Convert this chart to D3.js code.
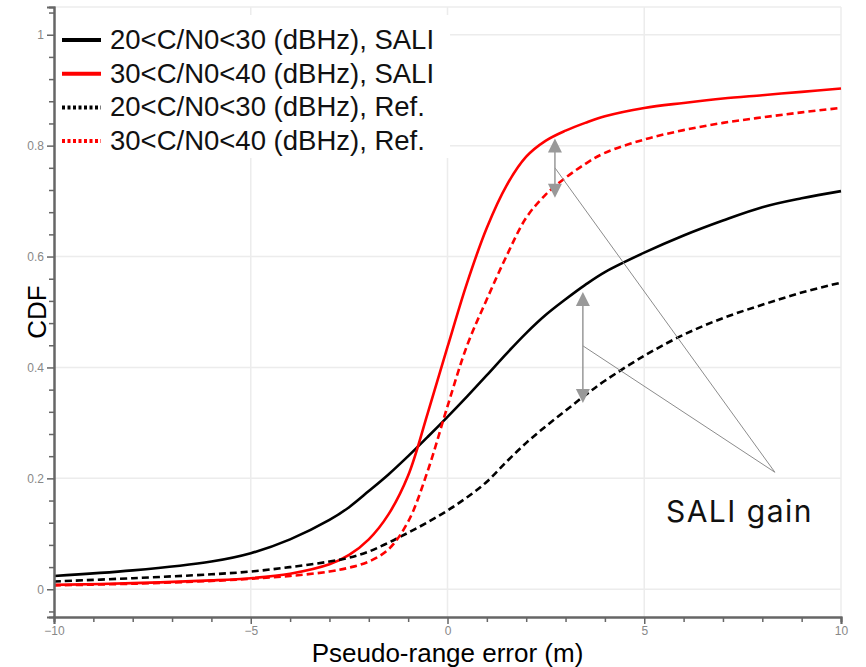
<!DOCTYPE html>
<html>
<head>
<meta charset="utf-8">
<script src="https://cdn.jsdelivr.net/npm/d3@7"></script>
<style>
  body { margin: 0; background: #fff; }
  text { font-family: "Liberation Sans", Arial, sans-serif; }
</style>
</head>
<body>
<script>
// pseudo-range error grid (m)
var errX = [-10, -8, -6, -5, -4, -3, -2.5, -2, -1.5, -1, -0.5, 0, 0.5, 1, 1.5, 2, 2.5, 3, 3.5, 4, 5, 6, 7, 8, 9, 10];

// CDF values
var sali2030 = [0.024, 0.034, 0.05, 0.065, 0.09, 0.125, 0.148, 0.177, 0.207, 0.24, 0.275, 0.311, 0.348, 0.386, 0.425, 0.462, 0.495, 0.523, 0.549, 0.572, 0.607, 0.638, 0.665, 0.689, 0.705, 0.718];
var sali3040 = [0.008, 0.011, 0.016, 0.02, 0.028, 0.045, 0.062, 0.09, 0.135, 0.205, 0.318, 0.437, 0.553, 0.652, 0.728, 0.78, 0.809, 0.827, 0.841, 0.853, 0.868, 0.877, 0.885, 0.891, 0.897, 0.903];
var ref2030 = [0.014, 0.02, 0.027, 0.032, 0.04, 0.05, 0.057, 0.068, 0.084, 0.102, 0.121, 0.142, 0.166, 0.194, 0.23, 0.264, 0.294, 0.322, 0.35, 0.376, 0.421, 0.459, 0.489, 0.513, 0.535, 0.553];
var ref3040 = [0.007, 0.01, 0.015, 0.019, 0.024, 0.032, 0.039, 0.05, 0.072, 0.122, 0.214, 0.33, 0.44, 0.523, 0.601, 0.67, 0.712, 0.742, 0.767, 0.787, 0.811, 0.828, 0.841, 0.851, 0.86, 0.868];

var seriesNames = ["20<C/N0<30 (dBHz), SALI", "30<C/N0<40 (dBHz), SALI", "20<C/N0<30 (dBHz), Ref.", "30<C/N0<40 (dBHz), Ref."];
var seriesColors = ["#000", "#ff0000", "#000", "#ff0000"];
var seriesDashed = [false, false, true, true];
var seriesValues = [sali2030, sali3040, ref2030, ref3040];

// gain arrows: x, top of arrow, bottom of arrow, leader start
var gainX = [2.73, 3.44];
var gainTop = [0.813, 0.536];
var gainBottom = [0.706, 0.336];
var gainMid = [0.76, 0.439];
var gainTarget = [8.32, 0.211];

var width = 866, height = 667;
var mLeft = 54, mRight = 841, mTop = 7, mBottom = 617;

var svg = d3.select("body").append("svg").attr("width", width).attr("height", height);

var x = d3.scaleLinear().domain([-10, 10]).range([mLeft, mRight]);
var y = d3.scaleLinear().domain([-0.05, 1.05]).range([mBottom, mTop]);

var majorY = d3.range(0, 1.01, 0.2);
var majorX = [-10, -5, 0, 5, 10];

// grid
svg.append("g").selectAll("line")
      .data(majorY)
      .enter().append("line")
      .attr("x1", mLeft).attr("x2", mRight)
      .attr("y1", function (d) { return y(d); })
      .attr("y2", function (d) { return y(d); })
      .attr("stroke", "#ececec").attr("stroke-width", 1.5);

svg.append("g").selectAll("line")
      .data(majorX.slice(1))
      .enter().append("line")
      .attr("x1", function (d) { return x(d); })
      .attr("x2", function (d) { return x(d); })
      .attr("y1", mTop).attr("y2", mBottom)
      .attr("stroke", "#ececec").attr("stroke-width", 1.5);

svg.append("line")
      .attr("x1", mLeft).attr("x2", mRight).attr("y1", mTop).attr("y2", mTop)
      .attr("stroke", "#ececec").attr("stroke-width", 1.5);

// legend box background hides the grid behind it
svg.append("rect")
      .attr("x", mLeft + 1).attr("y", 15).attr("width", 395).attr("height", 143)
      .attr("fill", "#fff");

// curves
var line = d3.line()
      .x(function (d, i) { return x(errX[i]); })
      .y(function (d) { return y(d); })
      .curve(d3.curveCatmullRom.alpha(0.5));

svg.append("g").selectAll("path")
      .data(seriesValues)
      .enter().append("path")
      .attr("d", line)
      .attr("fill", "none")
      .attr("stroke", function (d, i) { return seriesColors[i]; })
      .attr("stroke-width", 2.6)
      .attr("stroke-dasharray", function (d, i) { return seriesDashed[i] ? "7,4" : null; });

// axes
var gray = "#666";
var yAxis = svg.append("g").attr("transform", "translate(" + mLeft + ",0)")
      .call(d3.axisLeft(y).tickValues(majorY).tickSize(7).tickFormat(d3.format("~g")));
var yMinor = svg.append("g").attr("transform", "translate(" + mLeft + ",0)")
      .call(d3.axisLeft(y).tickValues(d3.range(-0.04, 1.05, 0.04).filter(function (d) { return Math.abs(d * 5 - Math.round(d * 5)) > 0.01; })).tickSize(5).tickFormat(""));
var xAxis = svg.append("g").attr("transform", "translate(0," + mBottom + ")")
      .call(d3.axisBottom(x).tickValues(majorX).tickSize(7).tickFormat(d3.format("~g")));
var xMinor = svg.append("g").attr("transform", "translate(0," + mBottom + ")")
      .call(d3.axisBottom(x).tickValues(d3.range(-9, 10, 1).filter(function (d) { return d % 5 !== 0; })).tickSize(5).tickFormat(""));

[yAxis, yMinor, xAxis, xMinor].forEach(function (g) {
  g.select(".domain").attr("stroke", gray).attr("stroke-width", 2);
  g.selectAll(".tick line").attr("stroke", gray).attr("stroke-width", 1.5);
  g.selectAll(".tick text").attr("fill", "#888").attr("font-size", 12)
      .attr("font-family", "Liberation Sans, Arial, sans-serif");
});
yAxis.selectAll(".tick text").attr("x", -10);
xAxis.selectAll(".tick text").attr("y", 9);

// axis titles
svg.append("text")
      .attr("transform", "translate(46," + y(0.5) + ") rotate(-90)")
      .attr("text-anchor", "middle")
      .attr("font-size", 26)
      .text("CDF");

svg.append("text")
      .attr("x", x(0)).attr("y", 662)
      .attr("text-anchor", "middle")
      .attr("font-size", 26)
      .text("Pseudo-range error (m)");

// legend
var legend = svg.append("g").selectAll("g")
      .data(seriesNames)
      .enter().append("g")
      .attr("transform", function (d, i) { return "translate(62," + (40 + i * 33.7) + ")"; });

legend.append("line")
      .attr("x1", 0).attr("x2", 39).attr("y1", 0).attr("y2", 0)
      .attr("stroke", function (d, i) { return seriesColors[i]; })
      .attr("stroke-width", 4)
      .attr("stroke-dasharray", function (d, i) { return seriesDashed[i] ? "3,2.5" : null; });

legend.append("text")
      .attr("x", 48).attr("y", 9)
      .attr("font-size", 27.5)
      .attr("fill", "#111")
      .text(function (d) { return d; });

// SALI gain annotation
var arrowColor = "#999";
var ann = svg.append("g");

ann.selectAll("line.leader")
      .data(gainX)
      .enter().append("line")
      .attr("class", "leader")
      .attr("x1", function (d) { return x(d); })
      .attr("y1", function (d, i) { return y(gainMid[i]); })
      .attr("x2", x(gainTarget[0]))
      .attr("y2", y(gainTarget[1]))
      .attr("stroke", "#8c8c8c").attr("stroke-width", 1);

ann.selectAll("line.shaft")
      .data(gainX)
      .enter().append("line")
      .attr("class", "shaft")
      .attr("x1", function (d) { return x(d); })
      .attr("x2", function (d) { return x(d); })
      .attr("y1", function (d, i) { return y(gainTop[i]) + 10; })
      .attr("y2", function (d, i) { return y(gainBottom[i]) - 10; })
      .attr("stroke", arrowColor).attr("stroke-width", 1.5);

ann.selectAll("path.up")
      .data(gainX)
      .enter().append("path")
      .attr("class", "up")
      .attr("d", function (d, i) {
        var px = x(d), py = y(gainTop[i]);
        return "M" + px + "," + py + "L" + (px - 7) + "," + (py + 14) + "L" + (px + 7) + "," + (py + 14) + "Z";
      })
      .attr("fill", arrowColor);

ann.selectAll("path.down")
      .data(gainX)
      .enter().append("path")
      .attr("class", "down")
      .attr("d", function (d, i) {
        var px = x(d), py = y(gainBottom[i]);
        return "M" + px + "," + py + "L" + (px - 7) + "," + (py - 14) + "L" + (px + 7) + "," + (py - 14) + "Z";
      })
      .attr("fill", arrowColor);

ann.append("text")
      .attr("x", x(5.55)).attr("y", y(0.121))
      .style("font-family", "Inter, 'Noto Sans', sans-serif")
      .attr("font-size", 30)
      .attr("letter-spacing", 1.5)
      .attr("fill", "#111")
      .text("SALI gain");
</script>
</body>
</html>
